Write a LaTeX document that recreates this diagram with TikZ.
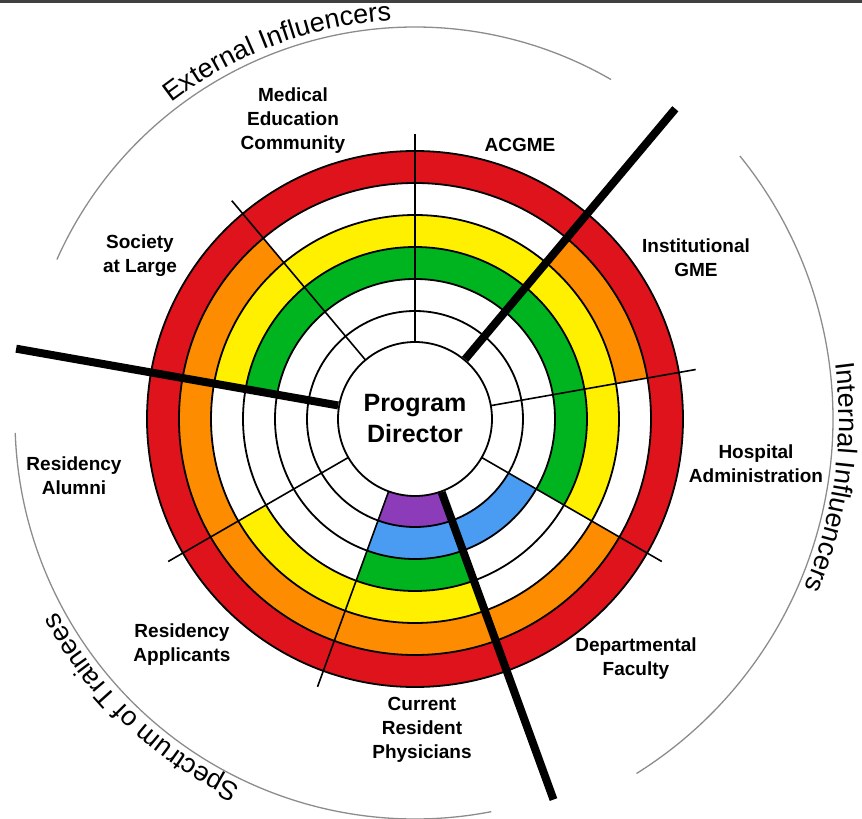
\documentclass[tikz,border=0pt]{standalone}
\usepackage{fontspec}
\setmainfont{Liberation Sans}
\usetikzlibrary{decorations.text}
\definecolor{ringred}{HTML}{DE131C}
\definecolor{ringorange}{HTML}{FD8C00}
\definecolor{ringyellow}{HTML}{FFF000}
\definecolor{ringgreen}{HTML}{00B420}
\definecolor{ringblue}{HTML}{4A9CF2}
\definecolor{ringpurple}{HTML}{8C3CB8}
\newcommand{\curvefont}{\fontsize{27}{27}\selectfont}
\tikzset{ringlabel/.style={font=\bfseries\fontsize{19}{24}\selectfont, align=center},
	ringline/.style={draw=black, line width=1.8pt},
	thindiv/.style={line width=1.6pt},
	thickdiv/.style={line width=8pt},
	outerarc/.style={draw=black!45, line width=1.3pt}}

\begin{document}
\begin{tikzpicture}[x=1pt, y=1pt]
		\useasboundingbox (-415,-400) rectangle (447,419);
		\fill[black!75] (-415,416) rectangle (447,419);
		% start/end/inner/outer/colour
		\foreach \s/\e/\ri/\ro/\col in {0/360/236/268/ringred, 130/330/204/236/ringorange,
			10/50/204/236/ringorange, -30/170/172/204/ringyellow, 210/290/172/204/ringyellow,
			-30/170/140/172/ringgreen, 250/290/140/172/ringgreen, 250/330/108/140/ringblue,
			250/290/77/108/ringpurple}
		\fill[\col] (\s:\ri) arc[start angle=\s, end angle=\e, radius=\ri pt]
			-- (\e:\ro) arc[start angle=\e, end angle=\s, radius=\ro pt] -- cycle;
		\foreach \r in {77,108,140,172,204,236,268}
		\draw[ringline] (0,0) circle[radius=\r pt];
		\foreach \a in {90,10,-30,-110,-150,130}
		\draw[thindiv] (\a:77) -- (\a:285);
		\foreach \a in {50,-70,170}
		\draw[thickdiv] (\a:78) -- (\a:405);
		\node[font=\bfseries\fontsize{25}{31}\selectfont, align=center] (pd) at (0,0) {Program\\Director};
		\node[ringlabel] (med) at (-122,298) {Medical\\Education\\Community};
		\node[ringlabel] (acgme) at (105,274) {ACGME};
		\node[ringlabel] (igme) at (281,161) {Institutional\\GME};
		\node[ringlabel] (hosp) at (341,-45) {Hospital\\Administration};
		\node[ringlabel] (dept) at (221,-240) {Departmental\\Faculty};
		\node[ringlabel] (curr) at (7,-311) {Current\\Resident\\Physicians};
		\node[ringlabel] (appl) at (-233,-226) {Residency\\Applicants};
		\node[ringlabel] (alum) at (-341,-57) {Residency\\Alumni};
		\node[ringlabel] (soc) at (-275,163) {Society\\at Large};
		\draw[outerarc] (60:392) arc[start angle=60, end angle=156, radius=392pt];
		\draw[outerarc] (39:418) arc[start angle=39, end angle=-58, radius=418pt];
		\draw[outerarc] (182:400) arc[start angle=182, end angle=281, radius=400pt];
		\path[decorate, decoration={text along path, text align=center,
			text={|\curvefont|External Influencers}}] (156:399) arc[start angle=156, end angle=65, radius=399pt];
		\path[decorate, decoration={text along path, text align=center,
			text={|\curvefont|Internal Influencers}}] (40:424) arc[start angle=40, end angle=-56, radius=424pt];
		\path[decorate, decoration={text along path, text align=center,
			text={|\curvefont|Spectrum of Trainees}}] (275:407) arc[start angle=275, end angle=178, radius=407pt];
\end{tikzpicture}
\end{document}
